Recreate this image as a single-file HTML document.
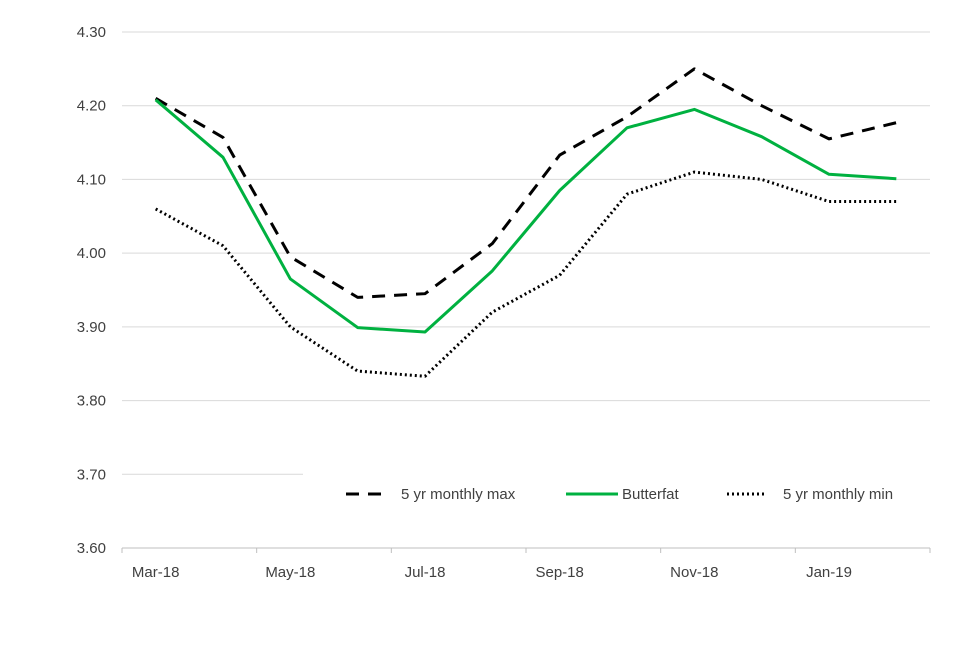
<!DOCTYPE html>
<html><head><meta charset="utf-8"><style>
body{margin:0;background:#fff;font-family:"Liberation Sans",sans-serif}
svg text{font-family:"Liberation Sans",sans-serif;font-size:15px;fill:#404040}
</style></head><body>
<svg id="chart" width="960" height="640" xmlns="http://www.w3.org/2000/svg"></svg>
<script>
const categories=["Mar-18","Apr-18","May-18","Jun-18","Jul-18","Aug-18","Sep-18","Oct-18","Nov-18","Dec-18","Jan-19","Feb-19"];
const maxValues=[4.21,4.157,3.995,3.94,3.945,4.013,4.133,4.185,4.25,4.2,4.155,4.177];
const butterfatValues=[4.208,4.13,3.965,3.899,3.893,3.976,4.085,4.17,4.195,4.158,4.107,4.101];
const minValues=[4.06,4.01,3.90,3.84,3.833,3.92,3.97,4.08,4.11,4.10,4.07,4.07];
const yTicks=[3.6,3.7,3.8,3.9,4.0,4.1,4.2,4.3];
const svg=document.getElementById('chart');
const NS='http://www.w3.org/2000/svg';
const x0=122,x1=930,yTop=32,yBot=548,yMin=3.6,yMax=4.3;
const bw=(x1-x0)/categories.length;
const xs=i=>x0+bw*(i+0.5);
const ys=v=>yBot-(v-yMin)/(yMax-yMin)*(yBot-yTop);
function mk(tag,attrs){const e=document.createElementNS(NS,tag);for(const k in attrs)e.setAttribute(k,attrs[k]);svg.appendChild(e);return e;}
yTicks.forEach(t=>{
  const y=ys(t);
  if(t>yMin){const g=mk('line',{x1:x0,x2:(Math.abs(t-3.7)<1e-9?303:x1),y1:y,y2:y,stroke:'#d9d9d9','stroke-width':1});
  
  }
  const l=mk('text',{x:106,y:y+5,'text-anchor':'end'});l.textContent=t.toFixed(2);
  
  
});
const ax=mk('line',{x1:x0,x2:x1,y1:yBot,y2:yBot,stroke:'#bfbfbf','stroke-width':1});


for(let i=0;i<=categories.length;i+=2){
  const x=x0+bw*i;
  const tk=mk('line',{x1:x,x2:x,y1:yBot,y2:yBot+5,stroke:'#bfbfbf'});
  
  
}
categories.forEach((c,i)=>{if(i%2)return;
  const t=mk('text',{x:xs(i),y:577,'text-anchor':'middle'});t.textContent=c;
  
  
});
function series(vals,color,dash,name){
  const p=mk('polyline',{points:vals.map((v,i)=>xs(i)+','+ys(v)).join(' '),fill:'none',stroke:color,'stroke-width':3,'stroke-dasharray':dash,'stroke-linejoin':'round'});
  
  
}
series(maxValues,'#000','13,9','series-5yr-max');
series(butterfatValues,'#00b140','','series-butterfat');
series(minValues,'#000','2,3','series-5yr-min');
const bg=mk('rect',{x:303,y:466,width:627,height:60,fill:'#fff'});


const legend=[["5 yr monthly max",'#000','13,9',346,401],["Butterfat",'#00b140','',566,622],["5 yr monthly min",'#000','2,3',727,783]];
legend.forEach(([lbl,c,d,lx,tx])=>{
  const l=mk('line',{x1:lx,x2:(d?lx+39:lx+52),y1:494,y2:494,stroke:c,'stroke-width':3,'stroke-dasharray':d});
  
  
  const t=mk('text',{x:tx,y:499,'font-size':'16'});t.textContent=lbl;
  
  
});
</script>
</body></html>
